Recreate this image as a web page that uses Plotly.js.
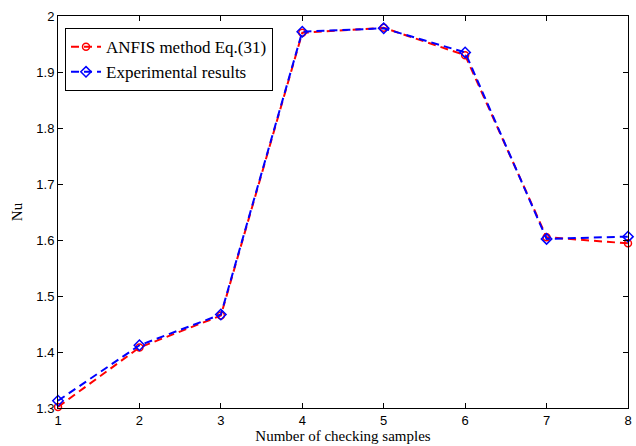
<!DOCTYPE html>
<html>
<head>
<meta charset="utf-8">
<script src="https://cdn.plot.ly/plotly-3.0.1.min.js"></script>
<style>html,body{margin:0;padding:0;background:#fff;}#chart{width:636px;height:446px;}</style>
</head>
<body>
<div id="chart"></div>
<script>
const samples = [1, 2, 3, 4, 5, 6, 7, 8];
const anfis = [1.302, 1.408, 1.465, 1.970, 1.979, 1.930, 1.605, 1.594];
const experimental = [1.313, 1.412, 1.467, 1.972, 1.978, 1.935, 1.602, 1.606];
const yTickVals = [1.3, 1.4, 1.5, 1.6, 1.7, 1.8, 1.9, 2.0];
const yTickText = ['1.3', '1.4', '1.5', '1.6', '1.7', '1.8', '1.9', '2'];
const xTickVals = [1, 2, 3, 4, 5, 6, 7, 8];
const seriesNames = ['ANFIS method Eq.(31)', 'Experimental results'];

const traces = [
  {x: samples, y: anfis, name: seriesNames[0], type: 'scatter', mode: 'lines+markers', cliponaxis: false,
   line: {color: '#ff0000', width: 2, dash: '8px,5px'},
   marker: {symbol: 'circle-open', size: 7, color: '#ff0000', line: {width: 1.5}}},
  {x: samples, y: experimental, name: seriesNames[1], type: 'scatter', mode: 'lines+markers', cliponaxis: false,
   line: {color: '#0000ff', width: 2, dash: '8px,5px'},
   marker: {symbol: 'diamond-open', size: 8, color: '#0000ff', line: {width: 1.5}}}
];

const axisCommon = {
  showline: true, linecolor: '#000', linewidth: 1, mirror: 'ticks',
  ticks: 'inside', ticklen: 5, tickcolor: '#000', tickwidth: 1,
  showgrid: false, zeroline: false,
  tickfont: {family: 'Liberation Sans, Arial, sans-serif', size: 13, color: '#000'}
};

const layout = {
  width: 636, height: 446,
  margin: {l: 58, r: 8, t: 16, b: 38},
  paper_bgcolor: '#fff', plot_bgcolor: '#fff',
  showlegend: true,
  legend: {x: 0.0123, y: 0.969, xanchor: 'left', yanchor: 'top',
    bordercolor: '#000', borderwidth: 1, bgcolor: '#fff',
    font: {family: 'Liberation Serif, Times New Roman, serif', size: 17, color: '#000'},
    tracegroupgap: 0},
  xaxis: Object.assign({}, axisCommon, {
    range: [1, 8], tickvals: xTickVals,
    title: {text: 'Number of checking samples', standoff: 3,
      font: {family: 'Liberation Serif, Times New Roman, serif', size: 15, color: '#000'}}
  }),
  yaxis: Object.assign({}, axisCommon, {
    range: [1.3, 2.0], tickvals: yTickVals, ticktext: yTickText,
    title: {text: 'Nu', standoff: 10,
      font: {family: 'Liberation Serif, Times New Roman, serif', size: 15, color: '#000'}}
  })
};

Plotly.newPlot('chart', traces, layout, {displayModeBar: false, staticPlot: true});
</script>
</body>
</html>
